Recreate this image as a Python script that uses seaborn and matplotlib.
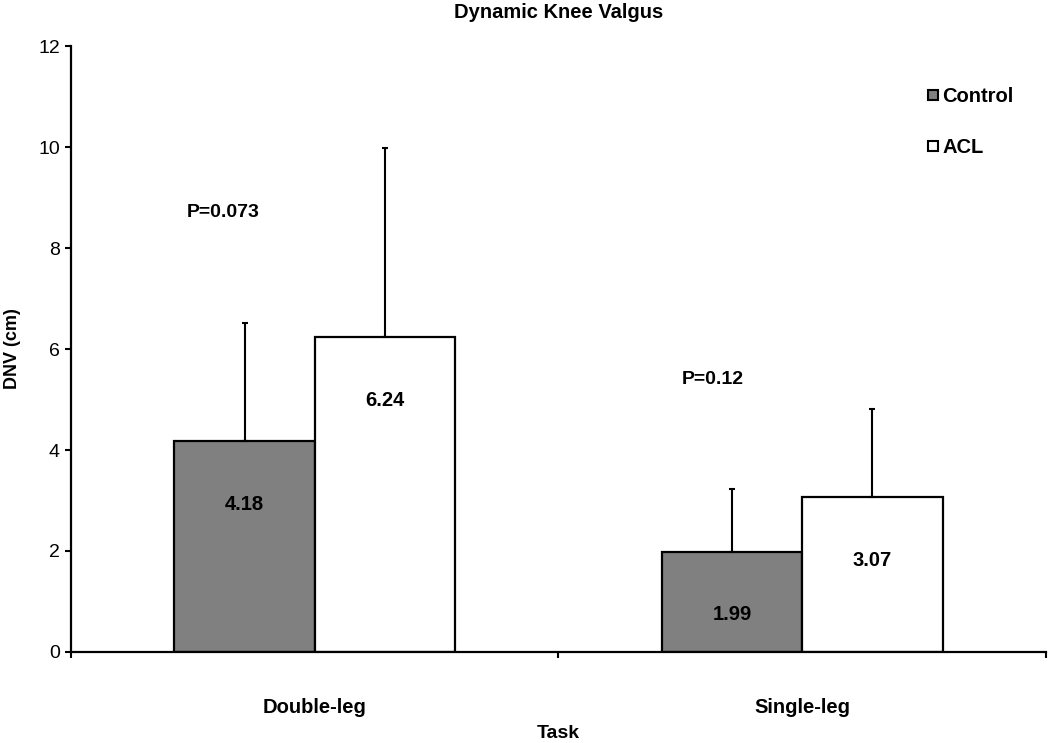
import pandas as pd
import seaborn as sns
import matplotlib.pyplot as plt
from matplotlib.lines import Line2D

# data
tasks = ["Double-leg", "Single-leg"]
groups = ["Control", "ACL"]
control_mean = [4.18, 1.99]
acl_mean = [6.24, 3.07]
control_sd = [2.33, 1.23]
acl_sd = [3.74, 1.74]
p_labels = ["P=0.073", "P=0.12"]

df = pd.DataFrame({
    "Task": tasks * 2,
    "Group": ["Control"] * 2 + ["ACL"] * 2,
    "DNV": control_mean + acl_mean,
    "SD": control_sd + acl_sd,
})

sns.set_style("ticks")
plt.rcParams["font.family"] = ["Liberation Sans", "DejaVu Sans"]
plt.rcParams["text.color"] = "black"
plt.rcParams["axes.labelcolor"] = "black"
plt.rcParams["xtick.color"] = "black"
plt.rcParams["ytick.color"] = "black"
plt.rcParams["axes.edgecolor"] = "black"

fig = plt.figure(figsize=(10.5, 7.43), dpi=100)
ax = fig.add_axes([0.0676, 0.1225, 0.9285, 0.8155])

colors = ["#808080", "#ffffff"]
sns.barplot(data=df, x="Task", y="DNV", hue="Group", hue_order=groups,
            palette=colors, width=0.576, gap=0, edgecolor="black",
            linewidth=1.6, saturation=1, errorbar=None, legend=False, ax=ax)

# upper-only SD bars, drawn from the bar patches
for cont, grp in zip(ax.containers, groups):
    sub = df[df["Group"] == grp]
    xs = [b.get_x() + b.get_width() / 2 for b in cont]
    ys = list(sub["DNV"])
    sds = list(sub["SD"])
    ax.errorbar(xs, ys, yerr=[[0] * len(sds), sds], fmt="none",
                ecolor="black", elinewidth=1.5, capsize=2.5, capthick=1.5,
                zorder=1)
    # value labels inside bars
    for b, v in zip(cont, ys):
        ax.text(b.get_x() + b.get_width() / 2, v - 1.25, f"{v:.2f}",
                ha="center", va="center", fontsize=14.5, fontweight="bold")

# p values
ax.text(-0.187, 8.71, p_labels[0], ha="center", va="center",
        fontsize=14, fontweight="bold")
ax.text(0.817, 5.39, p_labels[1], ha="center", va="center",
        fontsize=14, fontweight="bold")

ax.set_xlim(-0.5, 1.5)
ax.set_ylim(0, 12)
ax.set_yticks(range(0, 13, 2))
ax.set_xticks([-0.5, 0.5, 1.5], minor=True)
ax.tick_params(axis="x", which="major", length=0, pad=33, labelsize=14.5)
ax.tick_params(axis="x", which="minor", length=4, width=1.5, direction="out")
ax.tick_params(axis="y", length=4, width=1.5, pad=4, labelsize=14)
for lbl in ax.get_xticklabels():
    lbl.set_fontweight("bold")

sns.despine(ax=ax)
for s in ["left", "bottom"]:
    ax.spines[s].set_linewidth(1.6)

ax.set_xlabel("Task", fontsize=14, fontweight="bold", labelpad=6)
ax.set_ylabel("DNV (cm)", fontsize=13, fontweight="bold", labelpad=12)
ax.set_title("Dynamic Knee Valgus", fontsize=14.5, fontweight="bold", pad=20)

handles = [Line2D([], [], marker="s", linestyle="none", markersize=7,
                  markerfacecolor=c, markeredgecolor="black",
                  markeredgewidth=1.5) for c in colors]
fig.legend(handles, groups, loc="upper left", bbox_to_anchor=(0.866, 0.907),
           frameon=False, prop={"size": 14.5, "weight": "bold"},
           handlelength=0.6, handletextpad=0.15, labelspacing=1.6)

fig.savefig("out.png", dpi=100)
